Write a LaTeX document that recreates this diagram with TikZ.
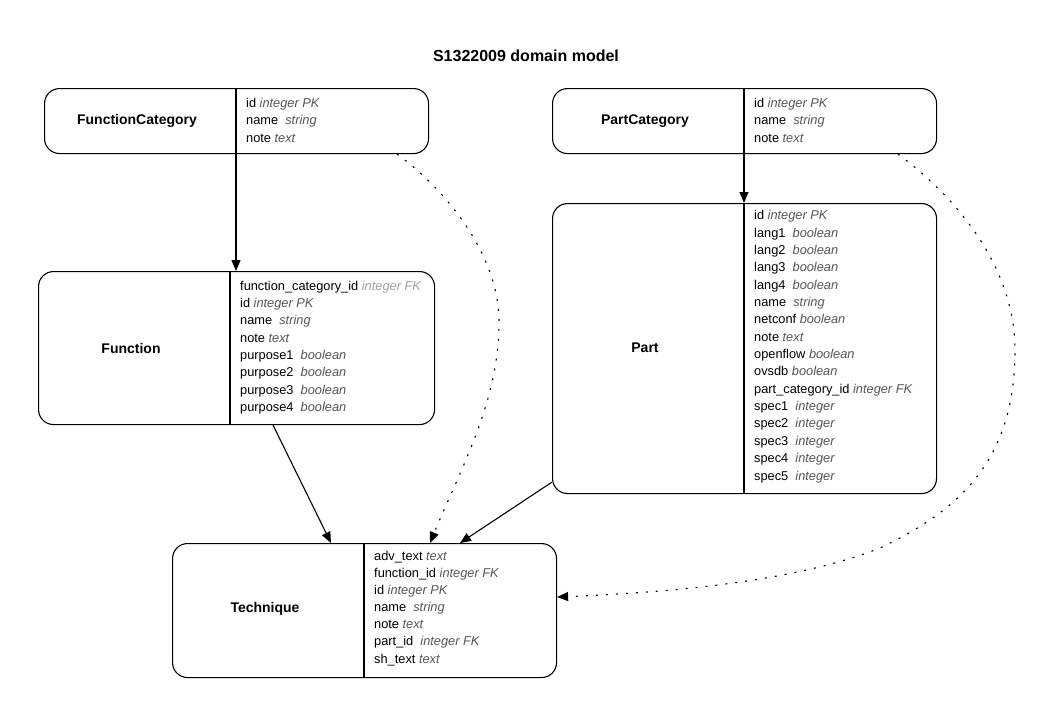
\documentclass[tikz,border=0pt]{standalone}
\usepackage{fontspec}
\setmainfont{Liberation Sans}
\usetikzlibrary{arrows.meta}
\definecolor{typegray}{HTML}{555555}
\definecolor{fkgray}{HTML}{A0A0A0}
\newcommand{\ty}[1]{\textcolor{typegray}{\itshape #1}}
\newcommand{\tyl}[1]{\textcolor{fkgray}{\itshape #1}}
\begin{document}
\begin{tikzpicture}[x=1pt,y=-1pt,
  tbl/.style={draw, line width=1.1pt, rounded corners=15pt, anchor=north west, inner sep=0pt},
  divline/.style={line width=1.1pt},
  tname/.style={font=\fontsize{14}{16}\selectfont\bfseries, inner sep=0pt},
  fields/.style={anchor=base west, align=left, inner sep=0pt, font=\fontsize{12.8}{17.35}\selectfont},
  arr/.style={line width=1.1pt, -{Triangle[length=11pt,width=9pt]}},
  darr/.style={arr, dash pattern=on 2pt off 8pt}
]
\useasboundingbox (0,0) rectangle (1054,717);
\fill[white] (0,0) rectangle (1054,717);

\node[font=\fontsize{16}{18}\selectfont\bfseries, anchor=base, inner sep=0pt] (title) at (526,61) {S1322009 domain model};

% FunctionCategory
\node[tbl, minimum width=384pt, minimum height=65pt] (fc) at (44,88) {};
\draw[divline] ([xshift=192pt]fc.north west) -- ([xshift=192pt]fc.south west);
\node[tname] (fcname) at (137,121) {FunctionCategory};
\node[fields] (fcf) at (246,142) {id \ty{integer PK}\\name\ \ \ty{string}\\note \ty{text}};

% PartCategory
\node[tbl, minimum width=384pt, minimum height=65pt] (pc) at (552,88) {};
\draw[divline] ([xshift=192pt]pc.north west) -- ([xshift=192pt]pc.south west);
\node[tname] (pcname) at (645,121) {PartCategory};
\node[fields] (pcf) at (754,142) {id \ty{integer PK}\\name\ \ \ty{string}\\note \ty{text}};

% Function
\node[tbl, minimum width=396pt, minimum height=153pt] (fn) at (38,271) {};
\draw[divline] ([xshift=192pt]fn.north west) -- ([xshift=192pt]fn.south west);
\node[tname] (fnname) at (131,348) {Function};
\node[fields] (fnf) at (240,411.5) {function\_category\_id \tyl{integer FK}\\id \ty{integer PK}\\name\ \ \ty{string}\\note \ty{text}\\purpose1\ \ \ty{boolean}\\purpose2\ \ \ty{boolean}\\purpose3\ \ \ty{boolean}\\purpose4\ \ \ty{boolean}};

% Part
\node[tbl, minimum width=384pt, minimum height=290pt] (pt) at (552,203) {};
\draw[divline] ([xshift=192pt]pt.north west) -- ([xshift=192pt]pt.south west);
\node[tname] (ptname) at (645,348) {Part};
\node[fields] (ptf) at (754,480) {id \ty{integer PK}\\lang1\ \ \ty{boolean}\\lang2\ \ \ty{boolean}\\lang3\ \ \ty{boolean}\\lang4\ \ \ty{boolean}\\name\ \ \ty{string}\\netconf \ty{boolean}\\note \ty{text}\\openflow \ty{boolean}\\ovsdb \ty{boolean}\\part\_category\_id \ty{integer FK}\\spec1\ \ \ty{integer}\\spec2\ \ \ty{integer}\\spec3\ \ \ty{integer}\\spec4\ \ \ty{integer}\\spec5\ \ \ty{integer}};

% Technique
\node[tbl, minimum width=384pt, minimum height=134pt] (tq) at (172,543) {};
\draw[divline] ([xshift=192pt]tq.north west) -- ([xshift=192pt]tq.south west);
\node[tname] (tqname) at (265,609) {Technique};
\node[fields, font=\fontsize{12.8}{17.1}\selectfont] (tqf) at (374,663) {adv\_text \ty{text}\\function\_id \ty{integer FK}\\id \ty{integer PK}\\name\ \ \ty{string}\\note \ty{text}\\part\_id\ \ \ty{integer FK}\\sh\_text \ty{text}};

% connectors
\draw[arr] ([xshift=192pt]fc.south west) -- ([xshift=198pt]fn.north west);
\draw[arr] ([xshift=192pt]pc.south west) -- ([xshift=192pt]pt.north west);
\draw[arr] ([xshift=235pt]fn.south west) -- ([xshift=159pt]tq.north west);
\draw[arr] ([yshift=12pt]pt.south west) -- ([xshift=288pt]tq.north west);
\draw[darr] ([xshift=353pt]fc.south west) .. controls (440,185) and (498,250) .. (499,320)
   .. controls (500,400) and (460,470) .. ([xshift=258pt]tq.north west);
\draw[darr] ([xshift=346pt]pc.south west) .. controls (960,200) and (1015,270) .. (1015,350)
   .. controls (1015,460) and (960,510) .. (880,548)
   .. controls (800,580) and (680,592) .. ([yshift=-54pt]tq.north east);
\end{tikzpicture}
\end{document}
